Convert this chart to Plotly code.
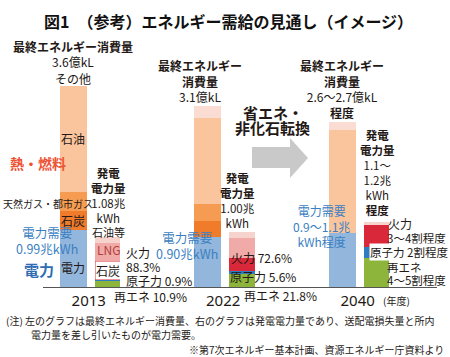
import plotly.graph_objects as go

# ---------------- data ----------------
years = ["2013", "2022", "2040"]

# final energy consumption (左の棒, 億kL)
cons_power = [1.02, 0.90, 0.97]      # 電力
cons_coal = [0.34, 0.29, 0.0]        # 石炭
cons_gas = [0.34, 0.29, 0.0]         # 天然ガス・都市ガス
cons_oil = [1.90, 1.54, 1.84]        # 石油 (熱・燃料)
cons_other = [0.0, 0.23, 0.14]       # その他

# power generation (右の棒, 兆kWh)
gen_renew = [0.12, 0.26, 0.58]       # 再エネ
gen_nuclear = [0.02, 0.06, 0.22]     # 原子力
gen_coal = [0.38, 0.26, 0.44]        # 石炭 / 火力
gen_lng = [0.36, 0.40, 0.0]          # LNG
gen_oil = [0.12, 0.12, 0.06]         # 石油等

# ---------------- layout helpers ----------------
W, H = 450, 357
ML, MR, MT, MB = 43, 13, 50, 70
PW, PH = W - ML - MR, H - MT - MB
FONT = "Noto Sans CJK JP"
DARK = "#231815"
BLUE = "#3b7fc2"


def px(x, y):
    return (x - ML) / PW, (H - MB - y) / PH


fig = go.Figure()

left_series = [
    ("電力", cons_power, "#93b6dc"),
    ("石炭", cons_coal, "#ef7b2b"),
    ("天然ガス・都市ガス", cons_gas, "#f69c52"),
    ("石油", cons_oil, "#fac49c"),
    ("その他", cons_other, "#fbdcd2"),
]
for name, vals, col in left_series:
    fig.add_trace(go.Bar(x=years, y=vals, name=name, marker=dict(color=col, line=dict(width=0)),
                         offset=-0.215, width=0.2, yaxis="y"))

right_series = [
    ("再エネ", gen_renew, "#8db53c"),
    ("原子力", gen_nuclear, "#2e7dc3"),
    ("石炭・火力", gen_coal, "#d8283a"),
    ("LNG", gen_lng, "#f0aaa7"),
    ("石油等", gen_oil, "#f7d3cd"),
]
for name, vals, col in right_series:
    fig.add_trace(go.Bar(x=years, y=vals, name=name, marker=dict(color=col, line=dict(width=0)),
                         offset=0.045, width=0.19, yaxis="y2"))

ann = []


def label(text, x, y, size=12, color=DARK, weight="normal", xanchor="center", bg=None):
    xp, yp = px(x, y)
    d = dict(text=text, x=xp, y=yp, xref="paper", yref="paper", showarrow=False,
             xanchor=xanchor, yanchor="middle", borderpad=0,
             font=dict(family=FONT, size=size, color=color, weight=weight))
    if bg:
        d.update(bgcolor=bg)
    ann.append(d)


# title
label("図1　（参考）エネルギー需給の見通し（イメージ）", 228, 21, size=16, color="#111111", weight="bold")

# 2013 left
label("最終エネルギー消費量", 73, 47, weight="bold")
label("3.6億kL", 73, 61)
label("その他", 73, 79)
label("石油", 73, 138)
label("熱・燃料", 38, 163, size=14, color="#ee5233", weight="bold")
label("天然ガス・都市ガス", 48, 203, size=10)
label("石炭", 73, 220)
label("電力需要<br>0.99兆kWh", 47, 240, size=12.5, color=BLUE)
label("電力", 39, 269, size=15, color="#2f6db5", weight="bold")
label("電力", 73, 267)

# 2013 right
label("<b>発電</b><br><b>電力量</b><br>1.08兆<br>kWh", 108, 195.5, size=11.5)
label("石油等", 108, 232, size=11)
label("LNG", 108, 249, color="#b0413e")
label("石炭", 108, 270, bg="white")
label("火力", 125, 252, xanchor="left")
label("88.3%", 125, 266, xanchor="left")
label("原子力 0.9%", 125, 280, xanchor="left")
label("再エネ 10.9%", 113, 296, xanchor="left")

# 2022
label("<b>最終エネルギー</b><br><b>消費量</b><br>3.1億kL", 200, 80.5)
label("省エネ・", 273, 112, size=15, weight="bold")
label("非化石転換", 272, 127, size=15, weight="bold")
label("<b>発電</b><br><b>電力量</b><br>1.00兆<br>kWh", 237, 200.5, size=11.5)
label("電力需要<br>0.90兆kWh", 187, 245, size=12.5, color=BLUE)
label("火力 72.6%", 230, 257, xanchor="left")
label("原子力 5.6%", 229, 276, xanchor="left")
label("再エネ 21.8%", 243, 295, xanchor="left")

# 2040
label("<b>最終エネルギー</b><br><b>消費量</b><br>2.6〜2.7億kL<br><b>程度</b>", 342, 88.5)
label("<b>発電</b><br><b>電力量</b><br>1.1〜<br>1.2兆<br>kWh<br><b>程度</b>", 377, 172.5, size=11.5)
label("電力需要<br>0.9〜1.1兆<br>kWh程度", 321, 226, size=12, color=BLUE)
label("火力", 387, 223, xanchor="left")
label("3〜4割程度", 386, 238, size=11.5, xanchor="left")
label("原子力 2割程度", 369, 252, size=11.5, xanchor="left", bg="white")
label("再エネ", 386, 267, size=11.5, xanchor="left")
label("4〜5割程度", 386, 280, size=11.5, xanchor="left")
label("(年度)", 382, 300, size=10, xanchor="left")

# footnotes
label("(注) 左のグラフは最終エネルギー消費量、右のグラフは発電電力量であり、送配電損失量と所内",
      5, 320, size=10, xanchor="left")
label("電力量を差し引いたものが電力需要。", 30, 334, size=10, xanchor="left")
label("※第7次エネルギー基本計画、資源エネルギー庁資料より", 445, 349, size=10, xanchor="right")

# gray arrow
pts = [(252, 147), (290, 147), (290, 138), (308, 158), (290, 178), (290, 168), (252, 168)]
path = "M " + " L ".join("%.4f,%.4f" % px(x, y) for x, y in pts) + " Z"
shapes = [dict(type="path", path=path, xref="paper", yref="paper",
               fillcolor="#c9c9c9", line=dict(width=0), layer="below")]

left_scale = 55.83   # px per 億kL
right_scale = 50.0   # px per 兆kWh

fig.update_layout(
    width=W, height=H,
    margin=dict(l=ML, r=MR, t=MT, b=MB, pad=0),
    barmode="stack",
    showlegend=False,
    paper_bgcolor="white", plot_bgcolor="white",
    font=dict(family=FONT, color=DARK),
    annotations=ann,
    shapes=shapes,
    xaxis=dict(type="category", range=[-0.34, 2.59], showline=True, linecolor="#555555",
               linewidth=1, ticks="", showgrid=False, zeroline=False,
               tickfont=dict(family="Noto Sans, Noto Sans CJK JP, sans-serif", size=15, color=DARK),
               fixedrange=True),
    yaxis=dict(range=[0, PH / left_scale], visible=False, showgrid=False, zeroline=False,
               fixedrange=True),
    yaxis2=dict(range=[0, PH / right_scale], visible=False, overlaying="y", showgrid=False,
                zeroline=False, fixedrange=True),
)

fig.write_html("out.html", config={"displayModeBar": False},
               post_script="document.body.style.margin='0px';")
